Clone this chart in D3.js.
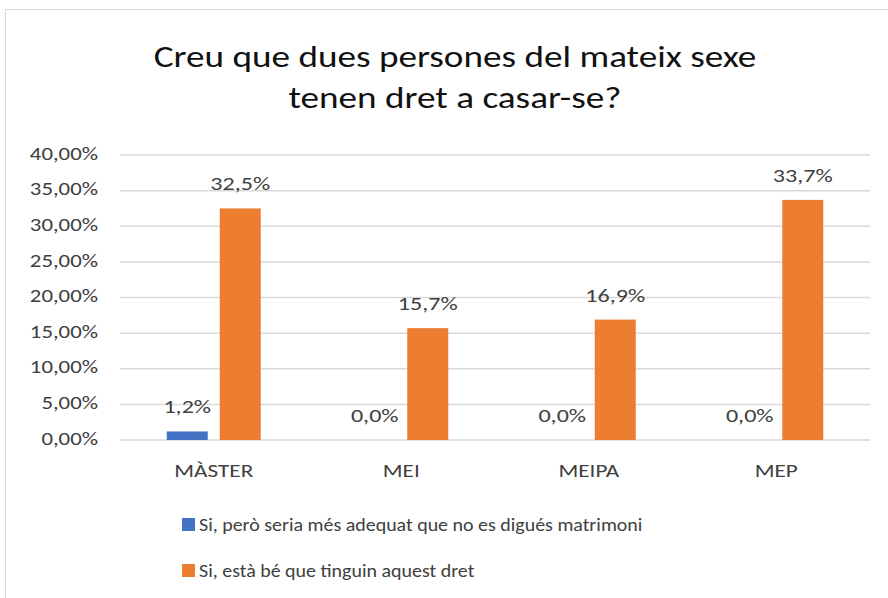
<!DOCTYPE html>
<html>
<head>
<meta charset="utf-8">
<script src="https://cdn.jsdelivr.net/npm/d3@7"></script>
<style>
  body { margin: 0; background: #fff; }
  text { font-family: Carlito, Calibri, 'Liberation Sans', sans-serif; }
</style>
</head>
<body>
<svg width="888" height="598"></svg>
<script>
var categories = ['MÀSTER', 'MEI', 'MEIPA', 'MEP'];
var seriesNames = ['Si, però seria més adequat que no es digués matrimoni', 'Si, està bé que tinguin aquest dret'];
var seriesA = [1.2, 0.0, 0.0, 0.0];
var seriesB = [32.5, 15.7, 16.9, 33.7];
var yTicks = [0, 5, 10, 15, 20, 25, 30, 35, 40];
var colors = ['#4472C4', '#ED7D31'];

var svg = d3.select('svg');

// widen text horizontally around its anchor point (the source chart is stretched)
function stretch(sel, k) {
  sel.each(function() {
    var t = d3.select(this);
    var x = +t.attr('x') || 0;
    t.attr('transform', 'translate(' + (x * (1 - k)) + ',0) scale(' + k + ',1)');
  });
}

// chart frame
svg.append('rect')
  .attr('x', 5.5).attr('y', 9.5)
  .attr('width', 900).attr('height', 600)
  .attr('fill', 'none')
  .attr('stroke', '#d9d9d9');

var padding = {t: 155, l: 120, r: 18, b: 158};
var chartWidth = 888 - padding.l - padding.r;
var chartHeight = 598 - padding.t - padding.b;

var chartG = svg.append('g')
  .attr('transform', 'translate(' + [padding.l, padding.t] + ')');

var xScale = d3.scaleBand().domain(categories).range([0, chartWidth]);
var xInner = d3.scaleBand().domain([0, 1]).range([-47, 47]).paddingInner(0.2264);
var yScale = d3.scaleLinear().domain([0, 40]).range([chartHeight, 0]);

// gridlines
chartG.selectAll('.grid')
  .data(yTicks)
  .enter()
  .append('line')
  .attr('class', 'grid')
  .attr('x1', 0).attr('x2', chartWidth)
  .attr('y1', function(d) { return yScale(d); })
  .attr('y2', function(d) { return yScale(d); })
  .attr('stroke', '#d9d9d9')
  .attr('stroke-width', 1.5);

// y axis labels
var yAxis = d3.axisLeft(yScale)
  .tickValues(yTicks)
  .tickSize(0)
  .tickPadding(22)
  .tickFormat(function(d) { return d.toFixed(2).replace('.', ',') + '%'; });

var yG = chartG.append('g').call(yAxis);
yG.select('.domain').remove();
yG.selectAll('text')
  .attr('dy', '0.22em')
  .attr('fill', '#404040')
  .style('font-size', '19px')
  .call(stretch, 1.2);

// x axis labels
var xAxis = d3.axisBottom(xScale).tickSize(0).tickPadding(24);
var xG = chartG.append('g')
  .attr('transform', 'translate(0,' + chartHeight + ')')
  .call(xAxis);
xG.select('.domain').remove();
xG.selectAll('text')
  .attr('fill', '#404040')
  .style('font-size', '19px')
  .call(stretch, 1.22);

var allSeries = [seriesA, seriesB];
allSeries.forEach(function(values, s) {
  var g = chartG.append('g');
  g.selectAll('rect')
    .data(values)
    .enter()
    .append('rect')
    .attr('x', function(d, i) { return xScale(categories[i]) + xScale.bandwidth() / 2 + xInner(s); })
    .attr('y', function(d) { return yScale(d); })
    .attr('width', xInner.bandwidth())
    .attr('height', function(d) { return chartHeight - yScale(d); })
    .attr('fill', colors[s]);

  g.selectAll('text')
    .data(values)
    .enter()
    .append('text')
    .attr('x', function(d, i) { return xScale(categories[i]) + xScale.bandwidth() / 2 + xInner(s) + xInner.bandwidth() / 2; })
    .attr('y', function(d) { return yScale(d) - 18; })
    .attr('text-anchor', 'middle')
    .attr('fill', '#404040')
    .style('font-size', '19px')
    .text(function(d) { return d.toFixed(1).replace('.', ',') + '%'; })
    .call(stretch, 1.27);
});

// title
var titleLines = ['Creu que dues persones del mateix sexe', 'tenen dret a casar-se?'];
svg.selectAll('.title')
  .data(titleLines)
  .enter()
  .append('text')
  .attr('class', 'title')
  .attr('x', 455)
  .attr('y', function(d, i) { return 67 + i * 41; })
  .attr('text-anchor', 'middle')
  .attr('fill', '#111')
  .style('font-size', '30px')
  .text(function(d) { return d; })
  .call(stretch, 1.24);

// legend
var legend = svg.selectAll('.legend')
  .data(seriesNames)
  .enter()
  .append('g')
  .attr('class', 'legend')
  .attr('transform', function(d, i) { return 'translate(182,' + (518 + i * 46) + ')'; });

legend.append('rect')
  .attr('width', 13).attr('height', 13)
  .attr('fill', function(d, i) { return colors[i]; });

legend.append('text')
  .attr('x', 17).attr('y', 13)
  .attr('fill', '#404040')
  .style('font-size', '19px')
  .text(function(d) { return d; })
  .call(stretch, 1.05);
</script>
</body>
</html>
